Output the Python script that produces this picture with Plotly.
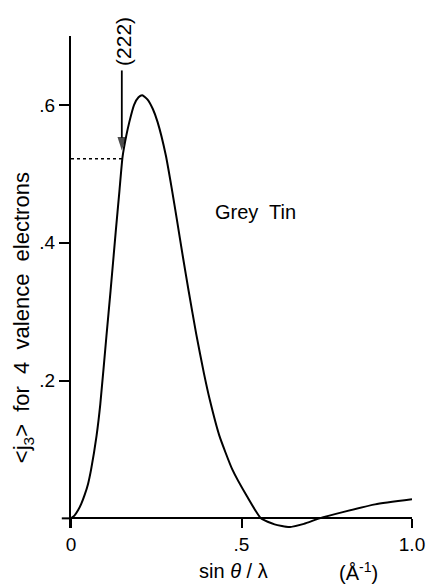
import plotly.graph_objects as go

# ---- data ----
sin_theta_over_lambda = [0, 0.010, 0.021, 0.030, 0.040, 0.050, 0.059, 0.075, 0.086, 0.104,
                         0.116, 0.131, 0.142, 0.151, 0.162, 0.171, 0.185, 0.198, 0.209, 0.224,
                         0.240, 0.254, 0.278, 0.295, 0.311, 0.328, 0.345, 0.367, 0.390, 0.407,
                         0.435, 0.473, 0.516, 0.557, 0.597, 0.640, 0.683, 0.729, 0.797, 0.892,
                         1.000]
j3_values = [0, 0.004, 0.012, 0.021, 0.034, 0.050, 0.071, 0.120, 0.166, 0.265,
             0.330, 0.415, 0.475, 0.524, 0.555, 0.575, 0.600, 0.611, 0.614, 0.608,
             0.594, 0.575, 0.527, 0.480, 0.432, 0.380, 0.330, 0.268, 0.210, 0.172,
             0.120, 0.071, 0.032, 0.000, -0.0087, -0.0126, -0.008, 0.000, 0.009, 0.0203,
             0.0276]

reflection_label = "(222)"
reflection_x = 0.152
reflection_y = 0.522
arrow_top_y = 0.65

x_tickvals = [0, 0.5, 1.0]
x_ticktext = ["0", ".5", "1.0"]
y_tickvals = [0.2, 0.4, 0.6]
y_ticktext = [".2", ".4", ".6"]

x_range = [0, 1.0]
y_range = [-0.014, 0.70]

FONT = "Liberation Sans, Arial, Helvetica, sans-serif"

fig = go.Figure()

fig.add_trace(go.Scatter(
    x=sin_theta_over_lambda, y=j3_values, mode="lines",
    line=dict(color="black", width=2, shape="spline", smoothing=0.5),
    hoverinfo="skip", showlegend=False, cliponaxis=False))

# dotted guide to the (222) point
fig.add_trace(go.Scatter(
    x=[0, reflection_x], y=[reflection_y, reflection_y], mode="lines",
    line=dict(color="black", width=1.5, dash="dot"),
    hoverinfo="skip", showlegend=False))

# arrow from the (222) label down to the curve
fig.add_trace(go.Scatter(
    x=[reflection_x - 0.003, reflection_x - 0.003],
    y=[arrow_top_y, reflection_y + 0.012],
    mode="lines+markers",
    line=dict(color="black", width=1.8),
    marker=dict(symbol=["circle", "arrow"], size=[0, 14], angleref="previous",
                color="black", line=dict(width=0)),
    hoverinfo="skip", showlegend=False, cliponaxis=False))

zero_frac = (0 - y_range[0]) / (y_range[1] - y_range[0])

fig.update_layout(
    width=437, height=586,
    margin=dict(l=71, r=16, t=36, b=58),
    paper_bgcolor="white", plot_bgcolor="white",
    font=dict(family=FONT, size=19, color="black"),
    xaxis=dict(range=x_range, tickvals=x_tickvals, ticktext=x_ticktext,
               showline=True, linecolor="black", linewidth=2,
               ticks="outside", ticklen=9, tickwidth=2, tickcolor="black",
               showgrid=False, zeroline=False, anchor="free", position=zero_frac,
               tickfont=dict(size=19)),
    yaxis=dict(range=y_range, tickvals=y_tickvals, ticktext=y_ticktext,
               showline=True, linecolor="black", linewidth=2,
               ticks="outside", ticklen=10, tickwidth=2, tickcolor="black",
               showgrid=False, zeroline=False, domain=[0, 1],
               tickfont=dict(size=19)),
    shapes=[
        # x-axis line continues a little past the y-axis, as in the reference
        dict(type="line", xref="paper", yref="y", x0=-0.027, x1=0, y0=0, y1=0,
             line=dict(color="black", width=2)),
    ],
)

annotations = [
    dict(x=0.154, y=0.989, xref="x", yref="paper", text=reflection_label,
         textangle=-90, showarrow=False, font=dict(size=21),
         xanchor="center", yanchor="middle"),
    dict(x=0.54, y=0.445, xref="x", yref="y", text="Grey  Tin",
         showarrow=False, font=dict(size=20), xanchor="center", yanchor="middle"),
    dict(x=-0.14, y=0.427, xref="paper", yref="paper",
         text="&lt;j<sub>3</sub>&gt;  for  4  valence  electrons",
         textangle=-90, showarrow=False, font=dict(size=22),
         xanchor="center", yanchor="middle"),
    dict(x=0.477, y=-0.088, xref="x", yref="paper", text="sin <i>θ</i> / λ",
         showarrow=False, font=dict(size=20), xanchor="center", yanchor="middle"),
    dict(x=0.843, y=-0.088, xref="x", yref="paper", text="(Å<sup>-1</sup>)",
         showarrow=False, font=dict(size=20), xanchor="center", yanchor="middle"),
]
fig.update_layout(annotations=annotations)

fig.write_html("out.html")
